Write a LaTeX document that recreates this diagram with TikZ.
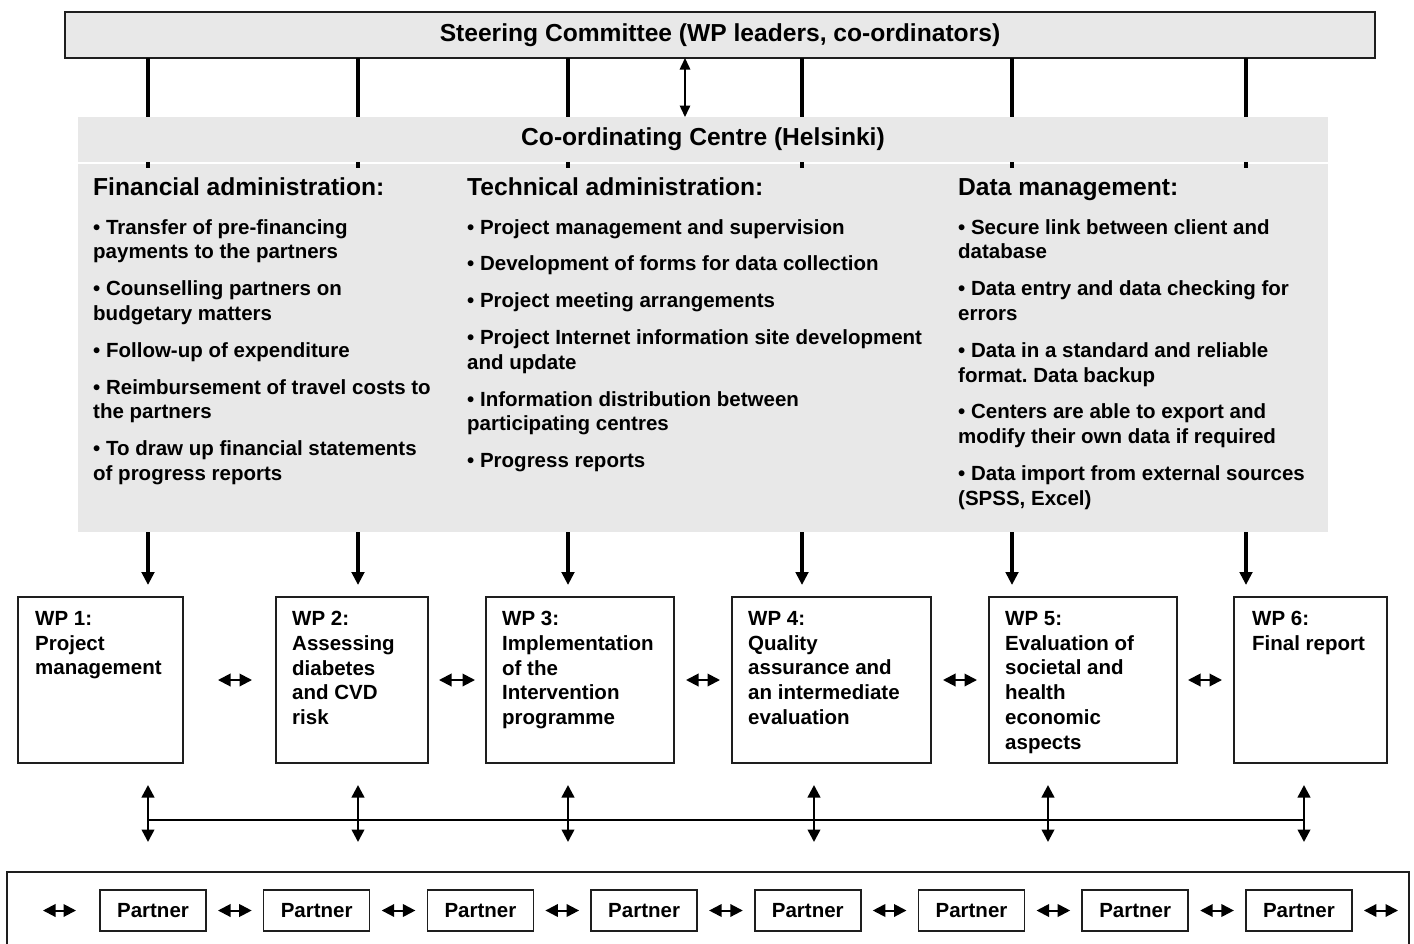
\documentclass[tikz,border=0pt]{standalone}
\usepackage{fontspec}
\setmainfont{Liberation Sans}
\frenchspacing
\usetikzlibrary{positioning,arrows.meta}

\definecolor{panel}{RGB}{232,232,232}
\definecolor{edge}{RGB}{30,30,30}

\newcommand{\headfont}{\fontsize{24.6}{29}\selectfont\bfseries}
\newcommand{\itemfont}{\fontsize{20.5}{24.8}\selectfont\bfseries}

\tikzset{
  box/.style={draw=edge,line width=1.5pt,anchor=north west,inner sep=0pt,outer sep=0pt},
  panelbox/.style={fill=panel,anchor=north west,inner sep=0pt,outer sep=0pt,minimum width=1250pt},
  wpbox/.style={box,minimum height=166pt},
  txt/.style={anchor=north west,inner sep=0pt,align=left,font=\itemfont},
  head/.style={anchor=base west,inner sep=0pt,font=\headfont},
  partner/.style={draw=edge,line width=1.5pt,inner sep=0pt,outer sep=0pt,minimum width=106pt,minimum height=41pt,font=\itemfont},
  feed/.style={line width=4pt},
  down/.style={line width=3.5pt,-{Triangle[width=12.5pt,length=13pt]}},
  both/.style={line width=2pt,{Triangle[width=12.5pt,length=12.5pt]}-{Triangle[width=12.5pt,length=12.5pt]}},
  thinboth/.style={line width=1.5pt,{Triangle[width=10.5pt,length=11.5pt]}-{Triangle[width=10.5pt,length=11.5pt]}}
}

\begin{document}
\begin{tikzpicture}[x=1pt,y=-1pt]
  \useasboundingbox (0,0) rectangle (1414,943);

  % steering committee
  \node[box,fill=panel,minimum width=1310pt,minimum height=46pt,font=\headfont] (steer) at (65,12)
    {Steering Committee (WP leaders, co-ordinators)};

  % columns of the work packages (top and bottom links)
  \foreach \x/\n in {148/1,358/2,568/3,802/4,1012/5,1246/6} \coordinate (t\n) at (\x,0);
  \foreach \x/\n in {148/1,358/2,568/3,814/4,1048/5,1304/6} \coordinate (b\n) at (\x,820);
  \coordinate (m) at (685,0);

  % co-ordinating centre: body, then the feed lines, then the title strip over them
  \node[panelbox,minimum height=368pt] (body) at (78,164) {};
  \foreach \n in {1,...,6}
    \draw[feed] (steer.south -| t\n) -- (body.north -| t\n) -- ++(0,4);
  \node[panelbox,minimum height=45pt,font=\headfont] (cc) at (78,117) {Co-ordinating Centre (Helsinki)};
  \draw[thinboth] (steer.south -| m) -- (cc.north -| m);

  \node[head] (finhead) at (93,195.5) {Financial administration:};
  \node[head] (techhead) at (467,195.5) {Technical administration:};
  \node[head] (datahead) at (958,195.5) {Data management:};

  \node[txt] (fin) at (93,219) {%
    • Transfer of pre-financing\\payments to the partners\\[12pt]
    • Counselling partners on\\budgetary matters\\[12pt]
    • Follow-up of expenditure\\[12pt]
    • Reimbursement of travel costs to\\the partners\\[12pt]
    • To draw up financial statements\\of progress reports};
  \node[txt] (tech) at (467,219) {%
    • Project management and supervision\\[12pt]
    • Development of forms for data collection\\[12pt]
    • Project meeting arrangements\\[12pt]
    • Project Internet information site development\\and update\\[12pt]
    • Information distribution between\\participating centres\\[12pt]
    • Progress reports};
  \node[txt] (data) at (958,219) {%
    • Secure link between client and\\database\\[12pt]
    • Data entry and data checking for\\errors\\[12pt]
    • Data in a standard and reliable\\format. Data backup\\[12pt]
    • Centers are able to export and\\modify their own data if required\\[12pt]
    • Data import from external sources\\(SPSS, Excel)};

  % work packages
  \node[wpbox,minimum width=165pt] (wp1) at (18,597) {};
  \node[wpbox,minimum width=152pt] (wp2) at (276,597) {};
  \node[wpbox,minimum width=188pt] (wp3) at (486,597) {};
  \node[wpbox,minimum width=199pt] (wp4) at (732,597) {};
  \node[wpbox,minimum width=188pt] (wp5) at (989,597) {};
  \node[wpbox,minimum width=153pt] (wp6) at (1234,597) {};

  \node[txt] at ([xshift=17pt,yshift=-14pt]wp1.north west) {WP 1:\\Project\\management};
  \node[txt] at ([xshift=16pt,yshift=-14pt]wp2.north west) {WP 2:\\Assessing\\diabetes\\and CVD\\risk};
  \node[txt] at ([xshift=16pt,yshift=-14pt]wp3.north west) {WP 3:\\Implementation\\of the\\Intervention\\programme};
  \node[txt] at ([xshift=16pt,yshift=-14pt]wp4.north west) {WP 4:\\Quality\\assurance and\\an intermediate\\evaluation};
  \node[txt] at ([xshift=16pt,yshift=-14pt]wp5.north west) {WP 5:\\Evaluation of\\societal and\\health\\economic\\aspects};
  \node[txt] at ([xshift=18pt,yshift=-14pt]wp6.north west) {WP 6:\\Final report};

  \draw[down,shorten >=12pt] (body.south -| t1) -- (wp1.north -| t1);
  \draw[down,shorten >=12pt] (body.south -| t2) -- (wp2.north -| t2);
  \draw[down,shorten >=12pt] (body.south -| t3) -- (wp3.north -| t3);
  \draw[down,shorten >=12pt] (body.south -| t4) -- (wp4.north -| t4);
  \draw[down,shorten >=12pt] (body.south -| t5) -- (wp5.north -| t5);
  \draw[down,shorten >=12pt] (body.south -| t6) -- (wp6.north -| t6);

  \draw[both,shorten <=35pt,shorten >=24pt] (wp1.east) -- (wp2.west);
  \draw[both,shorten <=11pt,shorten >=11pt] (wp2.east) -- (wp3.west);
  \draw[both,shorten <=12pt,shorten >=12pt] (wp3.east) -- (wp4.west);
  \draw[both,shorten <=12pt,shorten >=12pt] (wp4.east) -- (wp5.west);
  \draw[both,shorten <=11pt,shorten >=12pt] (wp5.east) -- (wp6.west);

  % partner network
  \node[box,minimum width=1402pt,minimum height=90pt] (net) at (7,872) {};
  \node[partner] (p1) at (153,910.5) {Partner};
  \node[partner,right=57.7pt of p1] (p2) {Partner};
  \node[partner,right=57.7pt of p2] (p3) {Partner};
  \node[partner,right=57.7pt of p3] (p4) {Partner};
  \node[partner,right=57.7pt of p4] (p5) {Partner};
  \node[partner,right=57.7pt of p5] (p6) {Partner};
  \node[partner,right=57.7pt of p6] (p7) {Partner};
  \node[partner,right=57.7pt of p7] (p8) {Partner};
  \coordinate (pl) at (43,910.5);
  \coordinate (pr) at (1398,910.5);

  \draw[both,shorten >=24pt] (pl) -- (p1.west);
  \draw[both,shorten <=12pt,shorten >=12pt] (p1.east) -- (p2.west);
  \draw[both,shorten <=12pt,shorten >=12pt] (p2.east) -- (p3.west);
  \draw[both,shorten <=12pt,shorten >=12pt] (p3.east) -- (p4.west);
  \draw[both,shorten <=12pt,shorten >=12pt] (p4.east) -- (p5.west);
  \draw[both,shorten <=12pt,shorten >=12pt] (p5.east) -- (p6.west);
  \draw[both,shorten <=12pt,shorten >=12pt] (p6.east) -- (p7.west);
  \draw[both,shorten <=12pt,shorten >=12pt] (p7.east) -- (p8.west);
  \draw[both,shorten <=12pt] (p8.east) -- (pr);

  % links between work packages and partners
  \draw[line width=1.5pt] (b1) -- (b6);
  \draw[both,line width=2.5pt,shorten <=22pt,shorten >=30pt] (wp1.south -| b1) -- (net.north -| b1);
  \draw[both,line width=2.5pt,shorten <=22pt,shorten >=30pt] (wp2.south -| b2) -- (net.north -| b2);
  \draw[both,line width=2.5pt,shorten <=22pt,shorten >=30pt] (wp3.south -| b3) -- (net.north -| b3);
  \draw[both,line width=2.5pt,shorten <=22pt,shorten >=30pt] (wp4.south -| b4) -- (net.north -| b4);
  \draw[both,line width=2.5pt,shorten <=22pt,shorten >=30pt] (wp5.south -| b5) -- (net.north -| b5);
  \draw[both,line width=2.5pt,shorten <=22pt,shorten >=30pt] (wp6.south -| b6) -- (net.north -| b6);
\end{tikzpicture}
\end{document}
